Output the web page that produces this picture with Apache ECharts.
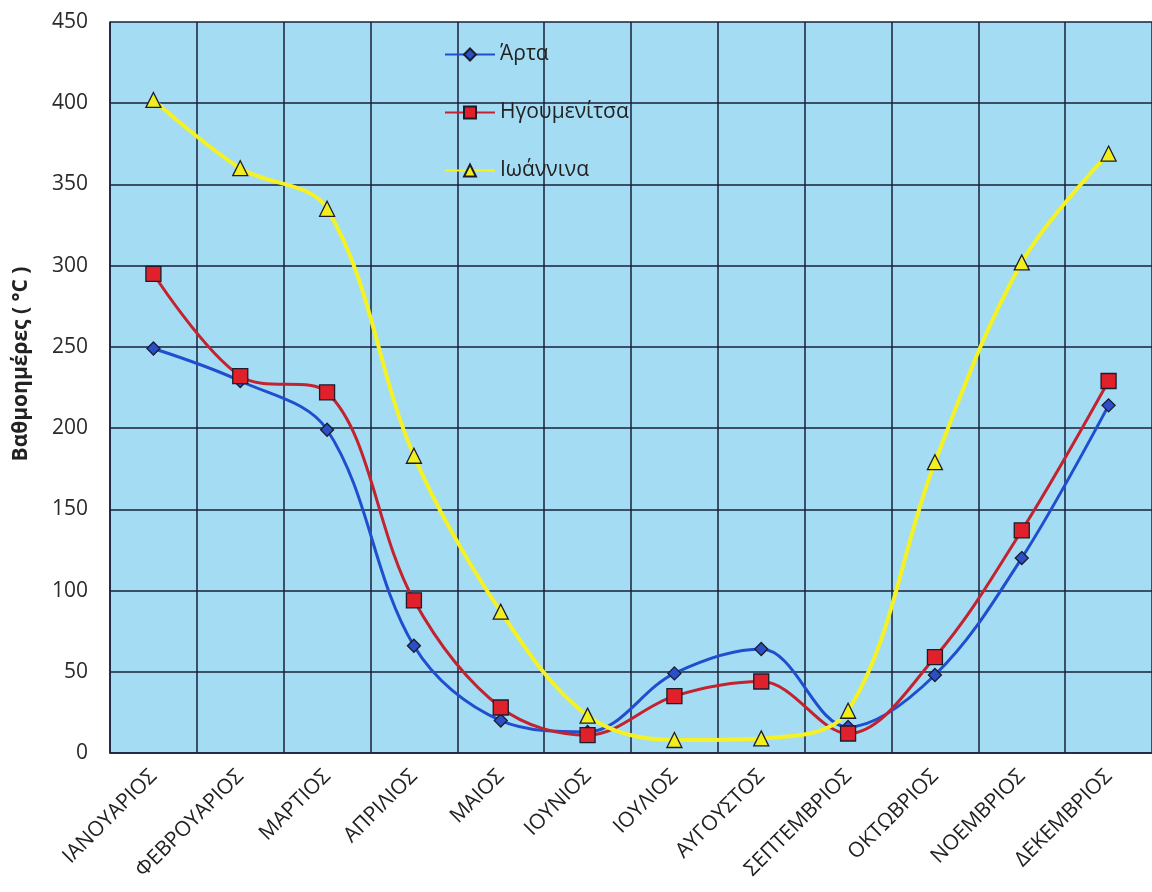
<!DOCTYPE html>
<html>
<head>
<meta charset="utf-8">
<script src="https://cdn.jsdelivr.net/npm/echarts@6/dist/echarts.min.js"></script>
<style>
  html, body { margin: 0; padding: 0; background: #ffffff; }
  #chart { width: 1152px; height: 892px; }
</style>
</head>
<body>
<div id="chart"></div>
<script>
// Monthly heating degree-days for three cities of Epirus
const months = ['ΙΑΝΟΥΑΡΙΟΣ', 'ΦΕΒΡΟΥΑΡΙΟΣ', 'ΜΑΡΤΙΟΣ', 'ΑΠΡΙΛΙΟΣ', 'ΜΑΙΟΣ', 'ΙΟΥΝΙΟΣ',
                'ΙΟΥΛΙΟΣ', 'ΑΥΓΟΥΣΤΟΣ', 'ΣΕΠΤΕΜΒΡΙΟΣ', 'ΟΚΤΩΒΡΙΟΣ', 'ΝΟΕΜΒΡΙΟΣ', 'ΔΕΚΕΜΒΡΙΟΣ'];
const arta        = [249, 229, 199, 66, 20, 13, 49, 64, 16, 48, 120, 214];
const igoumenitsa = [295, 232, 222, 94, 28, 11, 35, 44, 12, 59, 137, 229];
const ioannina    = [402, 360, 335, 183, 87, 23, 8, 9, 26, 179, 302, 369];
const seriesNames = ['Άρτα', 'Ηγουμενίτσα', 'Ιωάννινα'];
const yTicks = { min: 0, max: 450, interval: 50 };
const yTitle = 'Βαθμοημέρες ( °C )';

const gridLine = '#18203a';
const chart = echarts.init(document.getElementById('chart'), null, { renderer: 'canvas' });

function lineSeries(name, data, lineColor, lineWidth, symbol, symbolSize, markerColor) {
  return {
    name: name,
    type: 'line',
    data: data,
    smooth: 0.35,
    symbol: symbol,
    symbolSize: symbolSize,
    lineStyle: { color: lineColor, width: lineWidth },
    itemStyle: { color: markerColor, borderColor: '#1c1c2c', borderWidth: 1.3 },
    emphasis: { disabled: true }
  };
}

chart.setOption({
  animation: false,
  backgroundColor: '#ffffff',
  grid: { left: 110, right: 0, top: 22, bottom: 139, show: true, backgroundColor: '#a4dcf4', borderWidth: 0 },
  legend: {
    orient: 'vertical',
    left: 439,
    top: 39,
    itemGap: 37,
    itemWidth: 50,
    itemHeight: 15,
    textStyle: { fontFamily: 'Open Sans', fontSize: 21, color: '#222222' },
    data: seriesNames
  },
  graphic: [{
    type: 'text',
    x: 21,
    y: 364,
    rotation: Math.PI / 2,
    style: {
      text: yTitle,
      textAlign: 'center',
      textVerticalAlign: 'middle',
      fontFamily: 'Open Sans',
      fontWeight: 'bold',
      fontSize: 21,
      fill: '#222222'
    }
  }],
  xAxis: {
    type: 'category',
    data: months,
    boundaryGap: true,
    axisLine: { show: true, lineStyle: { color: gridLine, width: 1.5 } },
    axisTick: { show: false },
    splitLine: { show: true, lineStyle: { color: gridLine, width: 1.5 } },
    axisLabel: {
      interval: 0,
      rotate: 45,
      margin: 20,
      fontFamily: 'Open Sans',
      fontSize: 21,
      color: '#222222'
    }
  },
  yAxis: {
    type: 'value',
    min: yTicks.min,
    max: yTicks.max,
    interval: yTicks.interval,
    axisLine: { show: true, lineStyle: { color: gridLine, width: 1.5 } },
    axisTick: { show: false },
    splitLine: { show: true, lineStyle: { color: gridLine, width: 1.5 } },
    axisLabel: { fontFamily: 'Open Sans', fontSize: 21, color: '#2a2a2a', margin: 22 }
  },
  series: [
    lineSeries(seriesNames[0], arta, '#1f4fcf', 3, 'diamond', 13, '#2b4fc6'),
    lineSeries(seriesNames[1], igoumenitsa, '#c2232e', 3, 'rect', 15, '#e0202a'),
    lineSeries(seriesNames[2], ioannina, '#f4f224', 4, 'triangle', 15, '#f2ee1e')
  ]
});
</script>
</body>
</html>
